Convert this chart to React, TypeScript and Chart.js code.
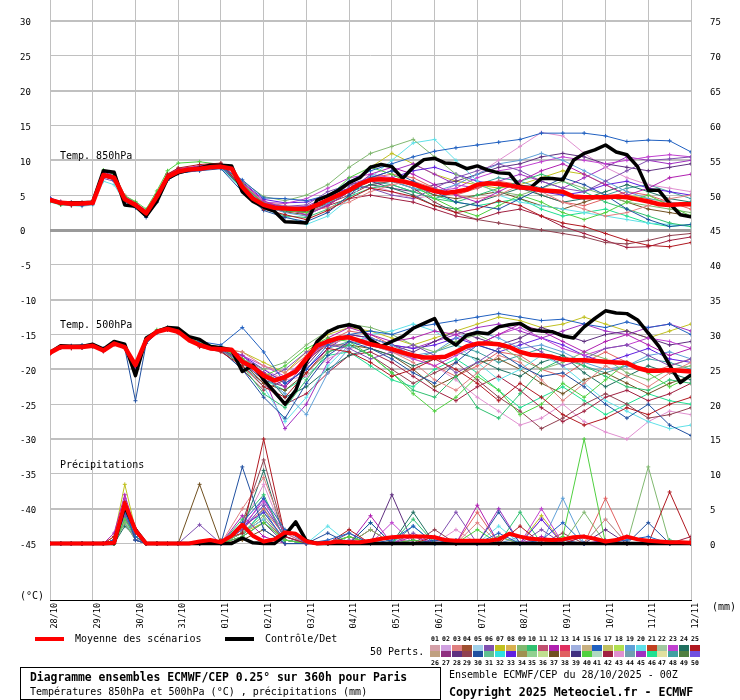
import React, { useEffect, useRef } from "react";
import { Chart, registerables } from "chart.js";

Chart.register(...registerables);

// ---------- categories / tick labels ----------
const DATE_LABELS = ["28/10", "29/10", "30/10", "31/10", "01/11", "02/11", "03/11", "04/11", "05/11", "06/11", "07/11", "08/11", "09/11", "10/11", "11/11", "12/11"];
const LEFT_TICK_RANGE = [-45, 30];
const RIGHT_TICK_RANGE = [0, 75];

// ---------- ensemble mean & control (6-hourly, 0..360h) ----------
const MEAN_850 = [4.3, 3.9, 3.8, 3.8, 3.9, 7.9, 7.5, 4.4, 3.6, 2.4, 4.8, 7.6, 8.4, 8.7, 8.8, 9.0, 9.1, 8.8, 6.2, 4.5, 3.6, 3.2, 3.1, 3.0, 3.0, 3.6, 4.3, 5.0, 5.7, 6.6, 7.2, 7.3, 7.2, 7.0, 6.6, 6.1, 5.6, 5.3, 5.5, 5.8, 6.5, 6.7, 6.6, 6.4, 6.1, 6.0, 5.7, 5.6, 5.5, 4.8, 4.7, 4.7, 4.7, 4.8, 4.7, 4.4, 4.1, 3.7, 3.6, 3.7, 3.7];
const CTRL_850 = [4.3, 3.9, 3.9, 3.9, 4.0, 8.5, 8.3, 3.6, 3.4, 2.0, 4.1, 7.4, 8.2, 8.6, 8.9, 9.3, 9.3, 9.2, 5.5, 4.1, 3.3, 2.7, 1.2, 1.1, 1.0, 4.3, 4.9, 5.7, 6.8, 7.5, 9.0, 9.4, 9.1, 7.4, 9.0, 10.1, 10.3, 9.6, 9.5, 8.8, 9.2, 8.6, 8.2, 8.1, 6.2, 6.1, 7.4, 7.4, 7.2, 10.0, 11.0, 11.5, 12.2, 11.2, 10.8, 9.1, 5.7, 5.7, 3.8, 2.2, 1.9];
const MEAN_500 = [-17.6, -16.8, -16.8, -16.8, -16.6, -17.3, -16.3, -16.8, -19.4, -15.8, -14.6, -14.2, -14.6, -15.8, -16.5, -17.0, -17.1, -17.2, -18.9, -19.7, -20.9, -21.6, -21.1, -20.3, -18.4, -16.6, -16.0, -15.5, -15.4, -15.9, -16.4, -16.7, -17.1, -17.6, -18.0, -18.3, -18.3, -18.2, -17.5, -16.7, -16.3, -16.3, -16.4, -16.8, -17.5, -17.9, -18.0, -18.2, -18.6, -18.7, -18.7, -18.8, -18.9, -19.0, -19.1, -19.8, -20.2, -20.2, -20.1, -20.2, -20.3];
const CTRL_500 = [-17.6, -16.6, -16.7, -16.7, -16.4, -17.1, -16.0, -16.4, -20.9, -15.5, -14.6, -14.0, -14.1, -15.3, -15.7, -16.7, -16.9, -17.2, -20.3, -19.4, -21.5, -23.2, -25.0, -23.0, -18.9, -16.0, -14.6, -13.9, -13.6, -14.0, -15.8, -16.7, -16.0, -15.3, -14.1, -13.4, -12.7, -15.5, -16.5, -15.1, -14.7, -14.9, -13.9, -13.6, -13.4, -14.3, -14.5, -14.6, -15.2, -15.5, -13.9, -12.7, -11.6, -11.9, -12.0, -12.9, -14.8, -16.7, -19.4, -21.9, -20.8];
const MEAN_PRECIP = [0, 0, 0, 0, 0, 0, 0.1, 5.8, 1.9, 0, 0, 0, 0, 0, 0.3, 0.5, 0.2, 1.1, 2.7, 1.1, 0.3, 0.6, 1.6, 1.4, 0.3, 0, 0.1, 0.3, 0.2, 0.2, 0.4, 0.7, 0.9, 1.0, 1.0, 1.0, 0.9, 0.5, 0.4, 0.4, 0.4, 0.4, 0.6, 1.4, 1.0, 0.7, 0.6, 0.5, 0.6, 0.9, 1.0, 0.7, 0.3, 0.5, 1.0, 0.6, 0.4, 0.3, 0.2, 0.2, 0.1];
const CTRL_PRECIP = [0, 0, 0, 0, 0, 0, 0, 5.3, 2.0, 0, 0, 0, 0, 0, 0, 0, 0, 0, 0.8, 0.1, 0, 0, 1.2, 3.1, 0.4, 0, 0, 0, 0, 0, 0, 0, 0, 0, 0, 0, 0, 0, 0, 0, 0, 0, 0, 0, 0, 0, 0, 0, 0, 0, 0, 0, 0, 0, 0, 0, 0, 0, 0, 0, 0];

// ---------- perturbed members ----------
const MEMBER_HOURS = [0, 6, 12, 18, 24, 30, 36, 42, 48, 54, 60, 66, 72, 84, 96, 108, 120, 132, 144, 156, 168, 180, 192, 204, 216, 228, 240, 252, 264, 276, 288, 300, 312, 324, 336, 348, 360];
const MEMBER_IDS = [16, 25, 30, 40, 12, 6, 3, 9, 10, 19, 20, 23, 24, 28, 29, 33, 37, 38, 42, 43, 45, 46, 48, 7];

const MEMBERS_850 = [
  [4.6, 4.0, 3.9, 3.6, 4.1, 8.2, 7.1, 4.1, 3.3, 2.0, 4.3, 7.1, 8.1, 8.6, 9.0, 7.2, 4.6, 4.5, 4.2, 5.0, 7.0, 8.5, 9.5, 10.5, 11.3, 11.8, 12.2, 12.6, 13.0, 13.9, 13.9, 13.9, 13.5, 12.7, 12.9, 12.8, 11.2],
  [4.2, 3.7, 3.5, 3.6, 3.8, 7.6, 7.3, 4.6, 3.8, 2.6, 5.1, 8.0, 8.9, 9.4, 9.6, 6.0, 3.0, 2.2, 1.5, 2.8, 4.5, 6.0, 5.5, 4.8, 3.5, 2.5, 3.0, 4.2, 3.5, 2.0, 1.0, 0.5, -0.5, -1.5, -2.2, -2.4, -1.8],
  [4.4, 3.8, 3.7, 3.9, 4.0, 7.7, 7.2, 4.1, 3.2, 1.8, 4.0, 7.2, 8.2, 8.5, 8.8, 5.5, 2.8, 1.8, 1.2, 2.5, 5.0, 7.5, 8.5, 7.0, 5.5, 4.0, 3.5, 3.0, 4.5, 6.0, 7.5, 6.5, 5.0, 3.0, 1.5, 0.5, 0.8],
  [4.1, 3.6, 3.7, 3.8, 4.2, 8.6, 8.0, 4.9, 4.1, 3.0, 5.6, 8.5, 9.6, 9.8, 9.4, 6.6, 3.8, 2.8, 2.5, 4.6, 7.5, 9.0, 8.0, 6.5, 4.5, 3.0, 2.0, 3.5, 5.0, 4.0, 2.5, 1.5, 2.5, 4.0, 5.0, 3.5, 2.0],
  [4.5, 4.0, 3.9, 3.7, 4.0, 8.3, 7.8, 4.8, 3.9, 2.8, 5.0, 7.9, 8.8, 9.2, 9.5, 6.8, 4.2, 3.0, 2.2, 3.5, 5.5, 8.0, 9.0, 8.0, 6.5, 5.0, 4.0, 5.5, 7.0, 8.5, 9.5, 8.0, 6.5, 5.0, 6.0, 7.5, 8.0],
  [4.3, 3.9, 3.6, 3.5, 3.7, 7.4, 7.0, 4.2, 3.5, 2.2, 4.6, 7.3, 8.3, 8.7, 9.0, 6.4, 3.9, 3.4, 3.6, 5.5, 6.5, 6.0, 5.0, 4.5, 6.0, 7.5, 8.5, 9.5, 8.5, 7.0, 6.0, 5.5, 7.0, 8.5, 10.0, 10.2, 10.5],
  [4.4, 4.1, 3.9, 4.0, 4.1, 7.8, 8.2, 5.0, 3.9, 2.7, 5.2, 8.1, 8.8, 9.0, 9.3, 6.8, 4.0, 3.5, 2.8, 3.2, 4.0, 5.5, 6.5, 7.0, 6.0, 5.0, 4.5, 5.0, 6.5, 5.5, 4.0, 3.0, 2.0, 2.5, 3.5, 4.5, 5.0],
  [4.2, 3.8, 3.7, 3.9, 3.8, 8.0, 7.6, 4.5, 3.7, 2.4, 4.9, 7.8, 8.7, 8.9, 9.2, 7.0, 4.8, 4.2, 5.0, 6.5, 9.0, 11.0, 12.0, 13.0, 10.5, 8.0, 6.5, 5.5, 5.0, 6.0, 7.0, 6.0, 5.0, 4.0, 3.5, 3.0, 2.5],
  [4.5, 3.9, 4.0, 3.8, 3.9, 8.1, 7.3, 4.3, 3.4, 2.1, 4.5, 7.5, 8.3, 8.8, 9.2, 6.0, 3.2, 2.0, 1.8, 3.0, 4.8, 6.0, 6.5, 5.5, 4.5, 4.0, 5.0, 6.0, 7.0, 8.0, 7.0, 5.5, 4.0, 3.0, 2.0, 1.0, 0.5],
  [4.3, 3.8, 3.8, 3.7, 3.9, 7.8, 7.4, 4.4, 3.6, 2.5, 4.7, 7.7, 8.5, 8.7, 9.0, 6.5, 3.5, 2.5, 2.0, 3.8, 6.0, 7.8, 7.0, 6.0, 5.5, 6.5, 8.0, 9.5, 10.0, 11.0, 10.0, 8.5, 7.0, 5.5, 4.5, 4.0, 3.5],
  [4.0, 3.6, 3.5, 3.4, 3.6, 7.0, 6.5, 4.0, 3.3, 2.2, 4.6, 7.4, 8.2, 8.6, 8.9, 5.8, 3.0, 2.0, 0.8, 2.0, 4.5, 7.5, 10.0, 12.5, 13.0, 10.0, 7.0, 5.0, 4.0, 3.5, 3.0, 2.5, 2.0, 1.5, 1.0, 0.8, 0.5],
  [4.6, 4.1, 4.0, 3.9, 4.0, 8.0, 7.8, 4.6, 3.8, 2.6, 5.0, 7.8, 8.6, 9.0, 9.4, 6.6, 4.0, 3.8, 4.5, 6.0, 7.5, 8.0, 7.5, 6.5, 5.5, 6.0, 7.5, 8.5, 9.0, 9.8, 10.5, 10.0, 9.5, 10.0, 10.5, 10.8, 10.5],
  [4.3, 3.8, 3.7, 3.8, 3.9, 7.9, 7.4, 4.3, 3.5, 2.3, 4.7, 7.5, 8.3, 8.7, 9.0, 6.1, 3.4, 2.7, 2.6, 4.0, 5.5, 6.5, 6.0, 5.0, 3.5, 3.0, 4.0, 5.0, 6.0, 5.0, 4.0, 4.5, 5.5, 6.5, 5.5, 4.5, 4.0],
  [4.1, 3.7, 3.6, 3.7, 3.8, 7.7, 7.2, 4.1, 3.4, 2.2, 4.6, 7.4, 8.2, 8.6, 9.0, 6.3, 3.7, 3.3, 3.2, 4.5, 6.5, 7.0, 6.0, 5.5, 6.5, 7.0, 8.0, 9.0, 9.5, 10.5, 11.0, 10.5, 9.5, 9.0, 8.5, 9.0, 9.5],
  [4.4, 3.9, 3.8, 3.9, 4.0, 8.0, 7.5, 4.4, 3.6, 2.4, 4.8, 7.6, 8.4, 8.8, 9.1, 6.4, 3.6, 2.9, 2.7, 3.8, 5.0, 6.5, 7.0, 6.0, 4.0, 2.5, 1.5, 1.0, 0.5, 0.0, -0.5, -1.0, -1.8, -2.0, -1.5, -0.8, -0.5],
  [4.5, 4.0, 3.9, 3.8, 3.9, 7.9, 7.6, 4.5, 3.8, 2.6, 4.9, 7.7, 8.5, 8.9, 9.2, 6.9, 4.4, 3.9, 4.0, 5.0, 6.0, 7.0, 7.5, 8.5, 9.0, 8.0, 7.0, 6.5, 6.0, 5.5, 5.0, 5.5, 6.5, 7.0, 6.0, 5.5, 5.0],
  [4.2, 3.8, 3.8, 3.7, 3.8, 7.8, 7.4, 4.3, 3.5, 2.3, 4.7, 7.5, 8.3, 8.7, 9.0, 6.0, 3.3, 2.6, 2.2, 3.5, 5.5, 7.0, 7.5, 6.5, 5.0, 4.5, 5.0, 5.5, 4.5, 3.5, 3.0, 4.0, 5.0, 4.0, 3.0, 2.5, 2.0],
  [4.3, 3.9, 3.8, 3.8, 3.9, 7.9, 7.5, 4.4, 3.6, 2.4, 4.8, 7.6, 8.4, 8.8, 9.1, 6.5, 3.8, 3.2, 3.0, 4.2, 6.0, 7.5, 8.0, 7.5, 6.0, 5.0, 6.0, 7.0, 6.5, 5.0, 4.0, 3.5, 4.5, 5.5, 5.0, 4.0, 3.0],
  [4.4, 3.9, 3.7, 3.8, 3.9, 8.0, 7.6, 4.4, 3.6, 2.4, 4.8, 7.6, 8.4, 8.8, 9.1, 6.2, 3.5, 2.8, 2.5, 3.5, 4.5, 5.0, 4.5, 4.0, 3.0, 2.0, 1.5, 2.5, 3.0, 2.0, 0.5, -0.5, -1.5, -2.5, -2.4, -1.5, -1.0],
  [4.2, 3.8, 3.7, 3.7, 3.8, 7.7, 7.3, 4.3, 3.5, 2.4, 4.7, 7.5, 8.3, 8.7, 9.0, 6.3, 3.8, 3.0, 2.6, 3.6, 5.5, 6.5, 5.5, 4.5, 5.0, 6.5, 8.0, 10.0, 12.0, 14.0, 13.5, 11.0, 9.0, 7.5, 6.5, 6.0, 5.5],
  [4.5, 4.0, 3.9, 3.8, 4.0, 8.1, 7.6, 4.5, 3.7, 2.5, 4.9, 7.7, 8.5, 8.9, 9.2, 6.6, 3.9, 3.2, 3.4, 4.8, 6.5, 7.5, 8.5, 9.5, 8.0, 6.5, 6.0, 7.0, 8.0, 7.0, 6.0, 7.5, 9.0, 10.5, 10.0, 9.5, 10.0],
  [4.3, 3.8, 3.8, 3.8, 3.9, 7.9, 7.5, 4.4, 3.6, 2.4, 4.8, 7.6, 8.4, 8.8, 9.1, 6.3, 3.6, 3.0, 2.8, 3.8, 5.5, 6.5, 7.0, 6.0, 5.0, 4.0, 3.5, 4.0, 4.5, 3.0, 2.0, 2.5, 3.0, 2.0, 1.0, 0.5, 0.8],
  [4.4, 3.9, 3.8, 3.8, 3.9, 7.9, 7.5, 4.4, 3.6, 2.4, 4.8, 7.6, 8.4, 8.8, 9.1, 6.5, 3.8, 3.3, 3.2, 4.5, 6.0, 7.0, 6.5, 5.5, 4.5, 5.5, 6.5, 7.5, 7.0, 6.0, 5.0, 4.5, 5.0, 6.0, 6.5, 5.5, 4.5],
  [4.3, 3.9, 3.8, 3.9, 3.9, 8.0, 7.5, 4.4, 3.6, 2.4, 4.8, 7.6, 8.4, 8.8, 9.1, 6.4, 3.7, 3.1, 3.0, 4.2, 6.5, 9.0, 11.0, 9.5, 8.0, 7.0, 6.5, 6.0, 6.5, 7.5, 8.5, 8.0, 6.5, 5.0, 4.5, 4.0, 3.5],
];

const MEMBERS_500 = [
  [-17.5, -16.7, -16.6, -16.5, -16.5, -17.0, -16.2, -16.9, -20.5, -15.9, -14.5, -14.0, -14.4, -16.0, -16.5, -14.0, -17.5, -22.0, -20.0, -16.5, -15.0, -14.5, -15.0, -14.0, -13.5, -13.0, -12.5, -12.0, -12.5, -13.0, -12.8, -13.5, -14.0, -13.2, -14.0, -13.5, -15.0],
  [-17.8, -16.9, -17.0, -16.9, -16.7, -17.4, -16.4, -16.9, -19.0, -15.7, -14.5, -14.3, -14.8, -16.8, -17.5, -19.5, -22.5, -24.0, -20.5, -17.0, -17.5, -19.0, -21.0, -20.0, -18.5, -20.0, -22.0, -24.5, -22.0, -24.0, -26.5, -28.0, -27.0, -25.5, -26.5, -25.0, -24.0],
  [-17.6, -16.8, -16.9, -16.8, -16.7, -17.3, -16.2, -17.0, -24.5, -16.3, -14.8, -14.3, -14.7, -16.4, -17.3, -20.0, -24.0, -27.0, -22.0, -18.0, -16.0, -17.0, -18.5, -20.5, -22.0, -19.0, -16.5, -17.5, -19.5, -21.0, -20.5, -22.5, -25.0, -27.0, -25.0, -28.0, -29.5],
  [-17.4, -16.7, -16.7, -16.6, -16.5, -17.1, -16.1, -16.7, -19.2, -15.6, -14.3, -14.0, -14.4, -16.2, -16.8, -18.5, -21.0, -19.5, -17.0, -15.5, -16.0, -18.0, -20.5, -23.5, -26.0, -24.0, -21.0, -23.0, -26.5, -25.0, -22.0, -24.0, -21.5, -19.0, -20.5, -22.5, -21.0],
  [-17.6, -16.8, -16.7, -16.8, -16.6, -17.2, -16.3, -16.8, -19.6, -15.8, -14.5, -14.1, -14.5, -16.3, -16.9, -18.0, -20.5, -22.5, -19.0, -15.5, -14.0, -15.0, -16.0, -15.5, -14.5, -15.0, -16.5, -15.0, -13.5, -14.5, -16.0, -17.5, -16.0, -15.0, -16.5, -18.0, -17.0],
  [-17.7, -16.9, -16.8, -16.9, -16.7, -17.4, -16.4, -16.9, -19.8, -15.9, -14.7, -14.3, -14.7, -16.6, -17.2, -19.0, -21.5, -20.0, -17.5, -16.5, -17.0, -18.5, -17.5, -16.5, -18.0, -20.5, -19.0, -17.0, -16.0, -17.5, -19.5, -18.5, -17.0, -16.5, -18.0, -19.5, -18.5],
  [-17.6, -16.8, -16.8, -16.7, -16.6, -17.3, -16.3, -16.8, -19.3, -15.8, -14.6, -14.2, -14.6, -16.5, -17.0, -17.5, -19.5, -20.5, -18.0, -16.5, -15.5, -16.0, -17.5, -19.0, -21.5, -23.0, -20.5, -18.0, -19.0, -21.5, -24.5, -22.0, -19.5, -21.0, -22.5, -20.5, -19.0],
  [-17.5, -16.7, -16.8, -16.7, -16.5, -17.2, -16.2, -16.7, -19.1, -15.7, -14.5, -14.2, -14.6, -16.4, -17.0, -18.5, -20.0, -19.0, -16.5, -14.5, -13.5, -14.0, -15.0, -16.5, -17.5, -16.0, -15.0, -16.5, -18.5, -20.0, -19.0, -17.5, -18.5, -20.5, -21.5, -20.0, -19.5],
  [-17.6, -16.8, -16.8, -16.8, -16.6, -17.3, -16.3, -16.8, -19.5, -15.8, -14.6, -14.2, -14.6, -16.5, -17.1, -19.5, -23.5, -25.5, -21.5, -17.5, -16.5, -18.0, -20.5, -23.0, -24.0, -21.0, -25.5, -27.0, -23.5, -20.0, -18.5, -19.5, -21.0, -22.5, -23.0, -21.5, -22.0],
  [-17.6, -16.8, -16.7, -16.8, -16.6, -17.3, -16.3, -16.8, -19.2, -15.8, -14.6, -14.2, -14.6, -16.5, -17.1, -18.0, -21.0, -23.5, -26.5, -20.5, -17.0, -15.5, -16.5, -18.0, -17.5, -15.5, -14.5, -15.5, -17.0, -16.5, -17.5, -19.0, -20.0, -19.5, -18.0, -17.5, -18.5],
  [-17.7, -16.9, -16.9, -16.9, -16.7, -17.4, -16.4, -16.9, -19.7, -15.9, -14.7, -14.3, -14.7, -16.6, -17.2, -19.0, -22.5, -27.5, -24.0, -19.5, -16.5, -15.0, -14.5, -13.5, -14.5, -16.5, -19.0, -21.5, -20.0, -18.0, -19.5, -22.0, -24.5, -26.0, -27.5, -28.5, -28.0],
  [-17.5, -16.7, -16.7, -16.7, -16.5, -17.2, -16.2, -16.7, -19.3, -15.7, -14.5, -14.1, -14.5, -16.4, -16.9, -18.0, -19.5, -21.0, -18.5, -16.0, -15.5, -16.5, -17.0, -18.5, -19.5, -18.0, -16.5, -15.0, -14.0, -15.5, -17.0, -18.0, -17.0, -16.5, -15.5, -16.0, -17.0],
  [-17.6, -16.8, -16.8, -16.8, -16.6, -17.3, -16.3, -16.8, -19.4, -15.8, -14.6, -14.2, -14.6, -16.5, -17.1, -18.5, -20.5, -24.0, -22.5, -20.0, -18.0, -17.0, -18.0, -19.5, -18.5, -17.5, -18.5, -20.0, -21.0, -19.0, -18.0, -20.5, -22.5, -21.0, -19.5, -20.5, -21.5],
  [-17.6, -16.8, -16.8, -16.8, -16.6, -17.3, -16.3, -16.8, -19.6, -15.8, -14.6, -14.2, -14.6, -16.5, -17.0, -19.0, -21.5, -22.5, -19.5, -16.0, -15.0, -15.5, -16.5, -17.5, -16.0, -14.5, -15.5, -16.5, -15.5, -14.0, -15.0, -16.0, -15.0, -14.5, -15.5, -16.5, -16.0],
  [-17.7, -16.9, -16.8, -16.9, -16.7, -17.4, -16.4, -16.9, -19.8, -15.9, -14.7, -14.3, -14.7, -16.6, -17.2, -20.0, -23.0, -21.5, -18.5, -16.5, -16.5, -18.0, -20.0, -22.0, -20.5, -19.0, -21.5, -24.0, -26.0, -28.5, -27.0, -25.0, -23.5, -25.0, -27.0, -26.5, -25.5],
  [-17.5, -16.7, -16.7, -16.7, -16.5, -17.2, -16.2, -16.7, -19.2, -15.7, -14.5, -14.1, -14.5, -16.3, -16.9, -18.0, -20.0, -22.0, -20.0, -17.0, -15.0, -15.5, -16.5, -17.0, -16.5, -15.5, -16.5, -17.5, -16.5, -15.5, -16.5, -18.0, -19.0, -18.0, -17.0, -18.5, -19.0],
  [-17.6, -16.8, -16.8, -16.8, -16.6, -17.3, -16.3, -16.8, -19.4, -15.8, -14.6, -14.2, -14.6, -16.5, -17.1, -19.0, -22.0, -23.0, -20.5, -17.5, -16.5, -17.0, -18.0, -20.0, -22.5, -21.0, -19.0, -18.5, -20.0, -22.0, -23.5, -21.5, -20.5, -22.0, -23.5, -22.0, -21.0],
  [-17.6, -16.8, -16.8, -16.8, -16.6, -17.3, -16.3, -16.8, -19.5, -15.8, -14.6, -14.2, -14.6, -16.5, -17.1, -18.5, -20.5, -21.5, -19.0, -16.0, -14.5, -15.0, -16.5, -18.0, -19.5, -21.0, -19.5, -17.5, -18.0, -20.0, -21.0, -19.0, -17.5, -19.0, -20.5, -19.5, -18.5],
  [-17.6, -16.8, -16.8, -16.8, -16.6, -17.3, -16.3, -16.8, -19.3, -15.8, -14.6, -14.2, -14.6, -16.5, -17.1, -19.5, -22.0, -25.0, -23.5, -20.5, -18.0, -17.5, -19.0, -21.0, -23.0, -24.5, -22.5, -21.0, -23.0, -25.5, -27.5, -26.0, -24.0, -23.0, -24.5, -23.5, -22.0],
  [-17.6, -16.8, -16.8, -16.8, -16.6, -17.3, -16.3, -16.8, -19.4, -15.8, -14.6, -14.2, -14.6, -16.5, -17.1, -18.5, -20.0, -21.5, -21.0, -18.5, -17.0, -16.5, -17.5, -18.5, -19.5, -21.5, -24.0, -26.0, -28.0, -27.0, -25.0, -27.5, -29.0, -30.0, -27.5, -26.0, -26.5],
  [-17.6, -16.8, -16.8, -16.8, -16.6, -17.3, -16.3, -16.8, -19.4, -15.8, -14.6, -14.2, -14.6, -16.5, -17.1, -18.0, -21.0, -28.5, -25.0, -19.0, -16.0, -15.5, -16.5, -17.0, -16.0, -15.0, -14.0, -13.5, -14.5, -15.5, -14.5, -13.5, -14.5, -15.0, -14.0, -13.5, -14.5],
  [-17.6, -16.8, -16.8, -16.8, -16.6, -17.3, -16.3, -16.8, -19.5, -15.8, -14.6, -14.2, -14.6, -16.5, -17.1, -19.0, -21.5, -23.0, -21.0, -18.0, -17.5, -19.5, -21.5, -22.5, -20.0, -18.5, -20.5, -23.0, -25.5, -24.0, -22.5, -24.5, -26.5, -25.0, -23.5, -24.5, -25.0],
  [-17.6, -16.8, -16.8, -16.8, -16.6, -17.3, -16.3, -16.8, -19.4, -15.8, -14.6, -14.2, -14.6, -16.5, -17.1, -18.5, -20.5, -22.0, -20.0, -17.0, -16.0, -16.5, -17.5, -18.5, -17.5, -16.5, -17.5, -19.0, -18.0, -17.0, -18.0, -19.5, -20.5, -19.5, -18.5, -19.0, -20.0],
  [-17.6, -16.8, -16.8, -16.8, -16.6, -17.3, -16.3, -16.8, -19.4, -15.8, -14.6, -14.2, -14.6, -16.5, -17.1, -17.5, -19.0, -20.5, -17.5, -15.0, -14.0, -14.5, -15.5, -16.5, -15.5, -14.5, -13.5, -12.5, -13.0, -14.0, -13.5, -12.5, -13.5, -14.5, -15.5, -14.5, -13.5],
];

const MEMBERS_PRECIP = [
  [0, 0, 0, 0, 0, 0, 0.5, 4.5, 1.0, 0, 0, 0, 0, 0, 0, 3.0, 6.5, 2.0, 0, 0.5, 1.5, 0, 0.5, 2.5, 0, 0.5, 0, 1.5, 0, 0.5, 3.0, 0, 0, 0.5, 1.0, 0, 0],
  [0, 0, 0, 0, 0, 0, 1.0, 6.0, 1.5, 0, 0, 0, 0, 0, 0.5, 1.5, 15.0, 1.0, 0, 0, 2.0, 0, 0, 0, 1.0, 0, 0, 0, 2.5, 0, 0, 1.0, 0, 0, 0, 7.4, 0.5],
  [0, 0, 0, 0, 0, 0, 0.5, 5.0, 0.5, 0, 0, 0, 0, 0, 0, 11.0, 2.0, 0, 0, 1.5, 0, 3.0, 0, 0, 0.5, 0, 0, 4.5, 0, 0, 0.5, 0, 0, 0, 3.0, 0, 0],
  [0, 0, 0, 0, 0, 0, 0, 3.5, 1.0, 0, 0, 0, 0, 0, 0, 1.0, 3.0, 0.5, 0, 0, 1.0, 0, 0, 0.5, 0, 0, 2.0, 0, 0, 0, 1.0, 15.0, 0, 0, 0, 0, 0],
  [0, 0, 0, 0, 0, 0, 1.5, 7.0, 2.0, 0, 0, 0, 0, 0, 0, 4.0, 1.0, 0, 0, 0, 0, 4.0, 0, 1.0, 0, 0, 5.5, 0, 0, 1.0, 0, 0, 0.5, 0, 0, 0, 0],
  [0, 0, 0, 0, 0, 0, 0.5, 4.0, 0.5, 0, 0, 0, 0, 2.7, 0, 2.0, 5.5, 1.0, 0, 0, 0.5, 0, 0, 1.5, 0, 4.5, 0, 0, 0, 2.0, 0, 0, 0, 1.0, 0, 0, 0],
  [0, 0, 0, 0, 0, 0, 0.5, 5.5, 1.0, 0, 0, 0, 0, 0, 0, 5.0, 9.5, 1.5, 0, 0, 0, 0, 1.0, 0, 0, 0, 3.0, 0, 0, 0.5, 0, 0, 3.5, 0, 0, 0, 0],
  [0, 0, 0, 0, 0, 0, 0, 3.0, 0.5, 0, 0, 0, 0, 0, 0, 1.5, 4.0, 0.5, 0, 0, 0, 2.0, 0, 0, 0, 0, 0, 1.0, 0, 0, 0, 4.5, 0, 0, 11.0, 0, 0],
  [0, 0, 0, 0, 0, 0, 0.5, 4.5, 1.0, 0, 0, 0, 0, 0, 0, 3.5, 7.0, 0.5, 0, 0, 1.0, 0, 0, 3.5, 0, 0, 0, 0, 4.5, 0, 0, 0, 0, 0, 0, 0.5, 0],
  [0, 0, 0, 0, 0, 0, 0, 4.0, 1.5, 0, 0, 0, 0, 0, 0, 2.0, 5.5, 1.0, 0, 0, 0, 0, 1.0, 0, 0, 0, 0, 0, 1.0, 0, 6.5, 0, 0, 0, 0, 0, 0],
  [0, 0, 0, 0, 0, 0, 0.5, 3.5, 0.5, 0, 0, 0, 0, 0, 0, 1.5, 3.5, 0, 0, 2.5, 0, 0, 0, 0, 0, 0.5, 0, 2.5, 0, 0, 0, 0, 3.5, 0, 0, 0, 0],
  [0, 0, 0, 0, 0, 0, 0.5, 6.5, 1.0, 0, 0, 0, 0, 0, 0, 2.5, 6.0, 1.5, 0, 0, 0, 0, 3.0, 0, 0, 0, 0, 0, 0, 5.0, 0, 1.0, 0, 0, 0, 0, 0],
  [0, 0, 0, 0, 0, 0, 0, 2.5, 1.0, 0, 0, 0, 0, 0, 0, 2.0, 10.5, 0.5, 0, 0, 0, 0, 0, 4.5, 0, 0, 0, 1.0, 0, 0, 0, 0, 0, 0, 0, 0, 0],
  [0, 0, 0, 0, 0, 0, 0.5, 5.0, 0.5, 0, 0, 0, 0, 0, 0, 1.0, 3.0, 0, 0, 0, 1.5, 0, 7.0, 0, 0, 0, 0, 0, 0, 0, 0, 0, 2.0, 0, 0, 0, 0],
  [0, 0, 0, 0, 0, 0, 0, 4.0, 1.0, 0, 0, 0, 0, 0, 0, 3.0, 12.0, 1.0, 0, 0, 0, 0, 0, 0, 2.0, 0, 0, 0, 0, 0, 1.5, 0, 0, 0, 0, 0, 0],
  [0, 0, 0, 0, 0, 0, 0.5, 5.5, 1.0, 0, 0, 0, 0, 0, 0, 2.5, 4.5, 0.5, 0, 0, 0, 0, 0, 0.5, 0, 0, 0, 0, 0, 3.5, 0, 0, 0, 0, 0, 0, 0],
  [0, 0, 0, 0, 0, 0, 0, 3.5, 0.5, 0, 0, 0, 0, 8.5, 0, 0.5, 2.0, 0, 0, 0, 0, 0, 0, 0, 0, 0, 0, 0, 0, 0, 0, 0, 0, 0, 0, 0, 0],
  [0, 0, 0, 0, 0, 0, 0.5, 4.5, 1.0, 0, 0, 0, 0, 0, 0, 2.0, 5.0, 1.0, 0, 0, 1.0, 0, 0, 0, 0, 0, 4.5, 0, 0, 0, 0, 0, 6.5, 0, 0, 0, 0],
  [0, 0, 0, 0, 0, 0, 0, 5.0, 1.0, 0, 0, 0, 0, 0, 0, 1.5, 3.5, 0.5, 0, 0, 0, 2.0, 0, 0, 0, 0, 0, 0, 0, 0, 0, 0, 0, 0, 0, 0, 1.0],
  [0, 0, 0, 0, 0, 0, 0.5, 3.0, 0.5, 0, 0, 0, 0, 0, 0, 2.5, 8.5, 1.0, 0, 0, 0, 0, 0, 0, 0, 2.0, 0, 0, 0, 3.5, 0, 0, 0, 0, 0, 0, 0],
  [0, 0, 0, 0, 0, 0, 0, 4.0, 0.5, 0, 0, 0, 0, 0, 0, 2.0, 6.5, 0.5, 0, 0, 0, 0, 0, 0, 0, 0, 0, 5.0, 0, 0, 0, 0, 0, 0, 0, 0, 0],
  [0, 0, 0, 0, 0, 0, 0.5, 4.0, 1.0, 0, 0, 0, 0, 0, 0, 1.5, 4.5, 0.5, 0, 0, 0, 3.0, 0, 0, 0, 0, 0, 0, 0, 0, 0, 0, 0, 0, 0, 0, 0],
  [0, 0, 0, 0, 0, 0, 0, 3.0, 0.5, 0, 0, 0, 0, 0, 0, 1.0, 5.0, 0, 0, 0, 0, 0, 0, 2.5, 0, 0, 0, 0, 0, 0, 0, 0, 0, 0, 0, 0, 0],
  [0, 0, 0, 0, 0, 0, 1.0, 8.5, 2.0, 0, 0, 0, 0, 0, 0, 1.5, 3.0, 0.5, 0, 0, 1.0, 0, 0, 0, 0, 0, 0, 0, 0, 4.0, 0, 0, 0, 0, 0, 0, 0],
];

// colours of the 50 perturbed members (legend order 01..50)
const PERT_COLORS = [
  "#d4a0a8", "#d0a0e0", "#e08080", "#a05030", "#a0d0e8", "#8050b0", "#c0c020", "#d8b050", "#80b870", "#30c070",
  "#c05070", "#b020b0", "#e03060", "#a0b0e0", "#c8b080", "#2060c0", "#c0c060", "#b0e050", "#60a0d8", "#60e0e8",
  "#c04020", "#a0c8a0", "#c040d0", "#207060", "#b01820", "#c0a080", "#903080", "#603080", "#904050", "#2050a0",
  "#60c090", "#30e0e0", "#6020e0", "#a09050", "#90d090", "#c0e090", "#705020", "#e06060", "#403080", "#50d040",
  "#b0d8c0", "#a02040", "#e090d0", "#70a0b0", "#a030c0", "#20e090", "#e0e0a0", "#40a0a0", "#508040", "#7050e0",
];

// text
const SECTION_LABELS = [
  { text: "Temp. 850hPa", value: 10.6 },
  { text: "Temp. 500hPa", value: -13.7 },
  { text: "Précipitations", value: -33.8 },
];
const TITLE = "Diagramme ensembles ECMWF/CEP 0.25° sur 360h pour Paris";
const SUBTITLE = "Températures 850hPa et 500hPa (°C) , précipitations (mm)";
const RUN_TEXT = "Ensemble ECMWF/CEP du 28/10/2025 - 00Z";
const COPYRIGHT = "Copyright 2025 Meteociel.fr - ECMWF";
const LEGEND_MEAN = "Moyenne des scénarios";
const LEGEND_CTRL = "Contrôle/Det";
const LEGEND_PERTS = "50 Perts.";

const MONO = '"DejaVu Sans Mono", "Liberation Mono", monospace';
const Y_MIN = -53.1;
const Y_MAX = 33.01;
const PRECIP_OFFSET = 45;

const HOURS_6H = MEAN_850.map((_, i) => i * 6);
const pts = (hours: number[], vals: number[]) => vals.map((v, i) => ({ x: hours[i], y: v }));

function buildDatasets() {
  const ds: any[] = [];
  const main = (data: number[], color: string, width: number, axis: string) => ({
    data: pts(HOURS_6H, data),
    borderColor: color,
    backgroundColor: color,
    borderWidth: width,
    pointRadius: 0,
    tension: 0,
    yAxisID: axis,
    borderJoinStyle: "round",
    borderCapStyle: "round",
  });
  ds.push(main(MEAN_850, "#ff0000", 4.5, "y"));
  ds.push(main(MEAN_500, "#ff0000", 4.5, "y"));
  ds.push(main(MEAN_PRECIP, "#ff0000", 4, "y2"));
  ds.push(main(CTRL_850, "#000000", 3.5, "y"));
  ds.push(main(CTRL_500, "#000000", 3.5, "y"));
  ds.push(main(CTRL_PRECIP, "#000000", 3.5, "y2"));
  MEMBER_IDS.forEach((id, k) => {
    const c = PERT_COLORS[id - 1];
    const m = (data: number[], axis: string) => ({
      data: pts(MEMBER_HOURS, data),
      borderColor: c,
      backgroundColor: c,
      borderWidth: 1,
      pointStyle: "cross",
      pointRadius: 2,
      pointBorderWidth: 1,
      pointBorderColor: c,
      tension: 0,
      yAxisID: axis,
    });
    ds.push(m(MEMBERS_850[k], "y"));
    ds.push(m(MEMBERS_500[k], "y"));
    ds.push(m(MEMBERS_PRECIP[k], "y2"));
  });
  return ds;
}

const sectionLabelPlugin = {
  id: "sectionLabels",
  afterDatasetsDraw(chart: any) {
    const { ctx, scales } = chart;
    ctx.save();
    ctx.font = `10px ${MONO}`;
    ctx.fillStyle = "#000";
    ctx.textAlign = "left";
    ctx.textBaseline = "middle";
    SECTION_LABELS.forEach((l) => {
      ctx.fillText(l.text, scales.x.left + 10, scales.y.getPixelForValue(l.value));
    });
    ctx.restore();
  },
};

function Txt(props: { x: number; cy: number; size: number; bold?: boolean; children: any }) {
  const lh = Math.round(props.size * 1.2);
  return (
    <div
      style={{
        position: "absolute",
        left: props.x,
        top: props.cy - lh / 2,
        fontFamily: MONO,
        fontSize: props.size,
        fontWeight: props.bold ? "bold" : "normal",
        lineHeight: lh + "px",
        whiteSpace: "pre",
        color: "#000",
      }}
    >
      {props.children}
    </div>
  );
}

export default function App() {
  const ref = useRef<HTMLCanvasElement | null>(null);
  useEffect(() => {
    if (!ref.current) return;
    const tickFont = { family: MONO, size: 9 };
    const chart = new Chart(ref.current, {
      type: "line",
      data: { datasets: buildDatasets() },
      plugins: [sectionLabelPlugin],
      options: {
        responsive: false,
        animation: false,
        events: [],
        layout: { autoPadding: false, padding: { left: 20, right: 0, top: 0, bottom: 0 } },
        plugins: { legend: { display: false }, tooltip: { enabled: false } },
        scales: {
          x: {
            type: "linear",
            min: 0,
            max: 360,
            position: "bottom",
            afterFit: (s: any) => {
              s.height = 100;
              s.paddingLeft = 0;
              s.paddingRight = 0;
            },
            ticks: {
              stepSize: 24,
              autoSkip: false,
              minRotation: 90,
              maxRotation: 90,
              labelOffset: 5,
              padding: 3,
              color: "#000",
              font: { family: MONO, size: 8.5 },
              callback: (v: any) => DATE_LABELS[Math.round(Number(v) / 24)] ?? "",
            },
            grid: { color: "#c0c0c0", lineWidth: 1, drawTicks: false },
            border: { display: true, color: "#000", width: 1 },
          },
          y: {
            type: "linear",
            min: Y_MIN,
            max: Y_MAX,
            position: "left",
            afterFit: (s: any) => {
              s.width = 30;
              s.paddingTop = 0;
              s.paddingBottom = 0;
            },
            ticks: {
              stepSize: 5,
              includeBounds: false,
              crossAlign: "far",
              padding: 0,
              labelOffset: 2,
              color: "#000",
              font: tickFont,
              callback: (v: any) => (v >= LEFT_TICK_RANGE[0] && v <= LEFT_TICK_RANGE[1] ? String(v) : ""),
            },
            grid: {
              drawTicks: false,
              color: (ctx: any) => {
                const v = ctx.tick ? ctx.tick.value : NaN;
                if (!(v >= LEFT_TICK_RANGE[0] && v <= LEFT_TICK_RANGE[1])) return "rgba(0,0,0,0)";
                return v === 0 ? "#9a9a9a" : "#c0c0c0";
              },
              lineWidth: (ctx: any) => {
                const v = ctx.tick ? ctx.tick.value : NaN;
                if (v === 0) return 3;
                return v % 10 === 0 ? 2 : 1;
              },
            },
            border: { display: false },
          },
          y2: {
            type: "linear",
            min: Y_MIN + PRECIP_OFFSET,
            max: Y_MAX + PRECIP_OFFSET,
            position: "right",
            afterFit: (s: any) => {
              s.width = 49;
              s.paddingTop = 0;
              s.paddingBottom = 0;
            },
            ticks: {
              stepSize: 5,
              includeBounds: false,
              crossAlign: "near",
              padding: 19,
              labelOffset: 2,
              color: "#000",
              font: tickFont,
              callback: (v: any) => (v >= RIGHT_TICK_RANGE[0] && v <= RIGHT_TICK_RANGE[1] ? String(v) : ""),
            },
            grid: { display: false, drawTicks: false },
            border: { display: false },
          },
        },
      } as any,
    });
    return () => chart.destroy();
  }, []);

  const squares: any[] = [];
  PERT_COLORS.forEach((c, i) => {
    const col = i % 25;
    const row = Math.floor(i / 25);
    const left = Math.round(430 + col * 10.833);
    squares.push(
      <div key={"sq" + i} style={{ position: "absolute", left, top: row === 0 ? 645 : 651, width: 10, height: 6, background: c }} />
    );
    const label = String(i + 1).padStart(2, "0");
    squares.push(
      <div
        key={"lb" + i}
        style={{
          position: "absolute",
          left: left - 2,
          width: 14,
          textAlign: "center",
          top: row === 0 ? 635 : 659,
          fontFamily: MONO,
          fontSize: 6.5,
          fontWeight: "bold",
          lineHeight: "8px",
          color: "#000",
        }}
      >
        {label}
      </div>
    );
  });

  return (
    <div style={{ position: "absolute", left: 0, top: 0, width: 740, height: 700, background: "#fff", overflow: "hidden" }}>
      <canvas ref={ref} width={740} height={700} style={{ position: "absolute", left: 0, top: 0, width: 740, height: 700 }} />
      <Txt x={20} cy={596} size={10}>(°C)</Txt>
      <Txt x={712} cy={607} size={10}>(mm)</Txt>
      <div style={{ position: "absolute", left: 35, top: 637, width: 29, height: 4, background: "#ff0000" }} />
      <Txt x={75} cy={639} size={10}>{LEGEND_MEAN}</Txt>
      <div style={{ position: "absolute", left: 225, top: 637, width: 29, height: 4, background: "#000" }} />
      <Txt x={265} cy={639} size={10}>{LEGEND_CTRL}</Txt>
      <Txt x={370} cy={652} size={10}>{LEGEND_PERTS}</Txt>
      {squares}
      <div style={{ position: "absolute", left: 20, top: 667, width: 421, height: 33, border: "1px solid #000", boxSizing: "border-box" }} />
      <Txt x={30} cy={677} size={11.4} bold>{TITLE}</Txt>
      <Txt x={30} cy={691.5} size={10}>{SUBTITLE}</Txt>
      <Txt x={449} cy={675} size={10}>{RUN_TEXT}</Txt>
      <Txt x={449} cy={691.5} size={11.6} bold>{COPYRIGHT}</Txt>
    </div>
  );
}
